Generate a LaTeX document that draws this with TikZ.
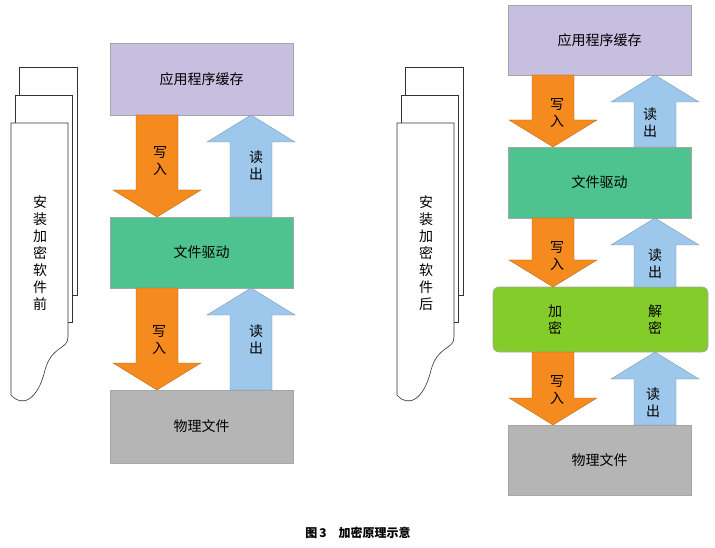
\documentclass[tikz,border=0pt]{standalone}
\usepackage{fontspec}
\setmainfont{Liberation Sans}
\newfontfamily\cjk{Noto Sans CJK SC}
\definecolor{appc}{HTML}{C7BFE0}
\definecolor{drvc}{HTML}{4FC38F}
\definecolor{filec}{HTML}{B5B5B5}
\definecolor{encc}{HTML}{84CC2A}
\definecolor{wrc}{HTML}{F58A1F}
\definecolor{rdc}{HTML}{9DC8EC}
% block arrow: centre x, from y, to y, colour
\newcommand{\blkarrow}[4]{%
  \pgfmathsetmacro{\dirs}{(#3>#2)?1:-1}
  \fill[#4, draw=#4!70!black, line width=0.3pt]
    (#1-21,#2) -- (#1-21,#3-27*\dirs) -- (#1-44,#3-27*\dirs) -- (#1,#3)
    -- (#1+44,#3-27*\dirs) -- (#1+21,#3-27*\dirs) -- (#1+21,#2) -- cycle;}
\tikzset{
  box/.style={draw=gray!70, line width=0.6pt, minimum width=183pt, inner sep=0pt, font=\cjk\fontsize{14}{14}\selectfont},
  lbl/.style={font=\cjk\fontsize{14}{17}\selectfont, align=center, inner sep=0pt},
  sheet/.style={draw=black!80, fill=white, line width=0.6pt}
}
\begin{document}
\begin{tikzpicture}[x=1pt,y=-1pt]
\useasboundingbox (0,0) rectangle (715,548);
% left: before
\draw[sheet] (19,295) -- (19,67) -- (77,67) -- (77,295) -- cycle;
\draw[sheet] (15,322) -- (15,95) -- (72,95) -- (72,322) -- cycle;
\draw[sheet] (11,395) -- (11,123) -- (68,123) -- (68,337)
  .. controls (68,350) and (52,345) .. (45,370)
  .. controls (38,400) and (22,408) .. (11,395);
\node[lbl, text width=14pt] (pre) at (40,253) {安\\装\\加\\密\\软\\件\\前};
\node[box, fill=appc, minimum height=72pt] (app1) at (201.5,79) {应用程序缓存};
\node[box, fill=drvc, minimum height=71pt] (drv1) at (201.5,252.5) {文件驱动};
\node[box, fill=filec, minimum height=73pt] (file1) at (201.5,426.5) {物理文件};
\blkarrow{157}{115}{217}{wrc}
\blkarrow{251}{217}{115}{rdc}
\blkarrow{157}{288}{390}{wrc}
\blkarrow{251}{390}{288}{rdc}
\node[lbl] (w1) at (160,161) {写\\入};
\node[lbl] (r1) at (256,166) {读\\出};
\node[lbl] (w2) at (159,340) {写\\入};
\node[lbl] (r2) at (256,340) {读\\出};
% right: after
\draw[sheet] (405,295) -- (405,67) -- (463,67) -- (463,295) -- cycle;
\draw[sheet] (401,322) -- (401,95) -- (458,95) -- (458,322) -- cycle;
\draw[sheet] (397,395) -- (397,123) -- (454,123) -- (454,337)
  .. controls (454,350) and (438,345) .. (431,370)
  .. controls (424,400) and (408,408) .. (397,395);
\node[lbl, text width=14pt] (post) at (426,253) {安\\装\\加\\密\\软\\件\\后};
\node[box, fill=appc, minimum height=70pt] (app2) at (599.5,40) {应用程序缓存};
\node[box, fill=drvc, minimum height=71pt] (drv2) at (599.5,182.5) {文件驱动};
\node[box, fill=encc, rounded corners=6pt, minimum width=215pt, minimum height=65pt] (enc) at (600.5,319.5) {};
\node[box, fill=filec, minimum height=70pt] (file2) at (599.5,460) {物理文件};
\blkarrow{553}{75}{147}{wrc}
\blkarrow{655}{147}{75}{rdc}
\blkarrow{553}{218}{287}{wrc}
\blkarrow{655}{287}{218}{rdc}
\blkarrow{553}{352}{425}{wrc}
\blkarrow{655}{425}{352}{rdc}
\node[lbl] (w3) at (557,113) {写\\入};
\node[lbl] (r3) at (650,123) {读\\出};
\node[lbl] (w4) at (557,256) {写\\入};
\node[lbl] (r4) at (655,264) {读\\出};
\node[lbl] (en) at (555,320) {加\\密};
\node[lbl] (de) at (655,320) {解\\密};
\node[lbl] (w5) at (557,390) {写\\入};
\node[lbl] (r5) at (653,403) {读\\出};
\node[font=\cjk\bfseries\fontsize{12}{12}\selectfont] (cap) at (358,533) {图\,3\quad 加密原理示意};
\end{tikzpicture}
\end{document}
